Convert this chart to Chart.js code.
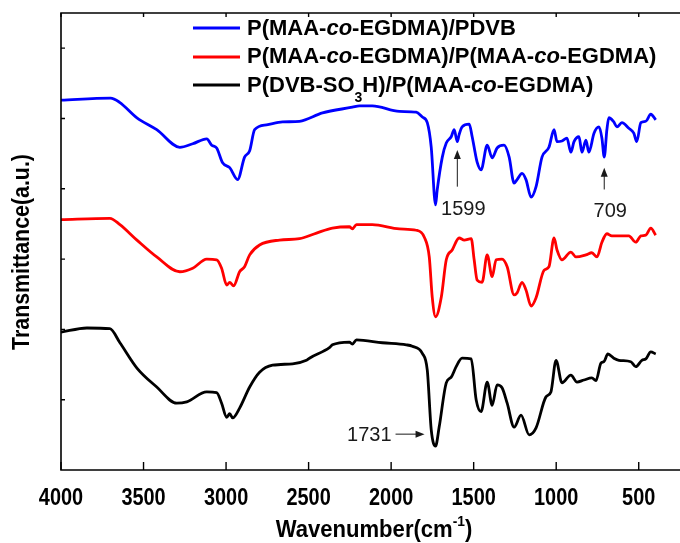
<!DOCTYPE html>
<html>
<head>
<meta charset="utf-8">
<script src="https://cdn.jsdelivr.net/npm/chart.js@4.4.1/dist/chart.umd.min.js"></script>
<style>
  html, body { margin: 0; padding: 0; background: #fff; }
  #wrap { width: 680px; height: 543px; }
</style>
</head>
<body>
<div id="wrap"><canvas id="c" width="680" height="543"></canvas></div>
<script>
// Axis ticks (wavenumber, cm-1) and the inward tick marks on the transmittance axis
const xTicks = [4000, 3500, 3000, 2500, 2000, 1500, 1000, 500];
const yTicks = [1, 2, 3, 4, 5, 6];

// Series labels (rich text: italic "co", subscript "3")
const labelBlue  = [{ t: 'P(MAA-' }, { t: 'co', i: true }, { t: '-EGDMA)/PDVB' }];
const labelRed   = [{ t: 'P(MAA-' }, { t: 'co', i: true }, { t: '-EGDMA)/P(MAA-' }, { t: 'co', i: true }, { t: '-EGDMA)' }];
const labelBlack = [{ t: 'P(DVB-SO' }, { t: '3', sub: true }, { t: 'H)/P(MAA-' }, { t: 'co', i: true }, { t: '-EGDMA)' }];

// P(MAA-co-EGDMA)/PDVB spectrum (offset transmittance)
const blueWn = [4000,3700,3645,3540,3420,3280,3202,3117,3087,3057,3021,2978,2930,2888,2857,2827,2755,2658,2555,2416,2235,2192,2114,1950,1848,1811,1781,1757,1731,1721,1690,1666,1636,1618,1599,1588,1570,1527,1509,1497,1479,1455,1418,1388,1358,1316,1285,1255,1237,1207,1183,1152,1122,1086,1044,1013,995,965,935,911,892,862,844,820,802,771,741,723,709,693,681,651,632,602,560,530,512,487,457,427,397];
const blueT  = [5.26,5.29,5.23,5.01,4.84,4.59,4.64,4.71,4.62,4.58,4.37,4.30,4.13,4.45,4.54,4.84,4.91,4.95,4.96,5.08,5.16,5.18,5.18,5.10,5.09,5.02,4.94,4.59,3.77,3.98,4.45,4.65,4.74,4.84,4.67,4.77,4.88,4.92,4.74,4.59,4.38,4.27,4.62,4.44,4.58,4.62,4.45,4.08,4.13,4.22,4.13,3.88,4.03,4.45,4.59,4.84,4.67,4.68,4.72,4.52,4.67,4.74,4.52,4.69,4.52,4.79,4.88,4.72,4.45,4.84,5.01,4.95,4.88,4.94,4.86,4.79,4.67,4.94,4.96,5.06,4.98];

// P(MAA-co-EGDMA)/P(MAA-co-EGDMA) spectrum
const redWn = [4000,3704,3643,3540,3420,3280,3202,3117,3057,3027,2996,2978,2954,2918,2888,2857,2797,2676,2555,2452,2356,2253,2235,2210,2114,1950,1848,1799,1769,1751,1731,1696,1666,1630,1588,1557,1515,1497,1479,1449,1418,1388,1364,1328,1297,1255,1237,1207,1183,1152,1122,1074,1044,1013,995,965,911,880,820,784,753,723,693,663,560,518,487,457,427,397];
const redT  = [3.56,3.58,3.49,3.27,3.03,2.82,2.87,3.00,2.99,2.87,2.63,2.67,2.62,2.82,2.89,3.06,3.20,3.27,3.29,3.37,3.44,3.46,3.43,3.49,3.49,3.43,3.41,3.31,3.03,2.46,2.18,2.46,2.99,3.13,3.30,3.27,3.29,2.99,2.70,2.67,3.06,2.75,2.99,3.00,2.89,2.49,2.52,2.67,2.56,2.33,2.45,2.84,2.89,3.30,3.13,2.99,3.10,3.03,3.06,3.09,3.03,3.24,3.36,3.33,3.33,3.24,3.33,3.34,3.44,3.34];

// P(DVB-SO3H)/P(MAA-co-EGDMA) spectrum
const blackWn = [4000,3843,3704,3643,3540,3420,3299,3238,3117,3057,3027,2996,2978,2960,2918,2857,2797,2718,2597,2513,2495,2374,2356,2253,2235,2210,2053,1908,1872,1811,1781,1757,1731,1709,1666,1636,1606,1570,1515,1485,1455,1418,1388,1358,1328,1297,1255,1213,1164,1122,1062,1032,1001,965,911,874,832,784,759,729,711,687,651,620,548,518,481,457,427,397];
const blackT  = [1.96,2.02,2.01,1.81,1.45,1.18,0.95,0.97,1.11,1.10,0.95,0.75,0.80,0.74,0.88,1.18,1.39,1.49,1.51,1.56,1.59,1.74,1.78,1.82,1.79,1.85,1.81,1.78,1.76,1.66,1.42,0.57,0.34,0.61,1.24,1.32,1.47,1.59,1.58,1.00,0.83,1.25,0.92,1.21,1.17,0.95,0.61,0.78,0.50,0.60,1.04,1.11,1.56,1.24,1.35,1.25,1.28,1.31,1.27,1.52,1.54,1.65,1.59,1.56,1.54,1.47,1.56,1.58,1.68,1.65];

// Marked bands: wavenumber, arrow tail / tip levels on the transmittance scale
const bandLabels = [
  { text: '1599', wn: 1599, from: 4.03, to: 4.55, dir: 'up' },
  { text: '709',  wn: 709,  from: 3.99, to: 4.30, dir: 'up' },
  { text: '1731', wn: 1731, level: 0.51, dir: 'right' }
];

const pts = (xs, ys) => xs.map((v, i) => ({ x: v, y: ys[i] }));

const SANS = '"Liberation Sans", Arial, sans-serif';

function drawRich(ctx, parts, x0, baseline, size, family) {
  let cx = x0;
  parts.forEach(p => {
    const s = (p.sub || p.sup) ? Math.round(size * 0.62) : size;
    ctx.font = (p.i ? 'italic ' : '') + 'bold ' + s + 'px ' + family;
    const dy = p.sub ? size * 0.45 : (p.sup ? -size * 0.45 : 0);
    ctx.fillText(p.t, cx, baseline + dy);
    cx += ctx.measureText(p.t).width;
  });
  return cx - x0;
}

function richWidth(ctx, parts, size, family) {
  let w = 0;
  parts.forEach(p => {
    const s = (p.sub || p.sup) ? Math.round(size * 0.62) : size;
    ctx.font = (p.i ? 'italic ' : '') + 'bold ' + s + 'px ' + family;
    w += ctx.measureText(p.t).width;
  });
  return w;
}

function arrowHead(ctx, x, y, dx, dy) {
  // filled head pointing along (dx, dy)
  const L = 9, W = 3.5;
  const bx = x - dx * L, by = y - dy * L;
  ctx.beginPath();
  ctx.moveTo(x, y);
  ctx.lineTo(bx - dy * W, by + dx * W);
  ctx.lineTo(bx + dy * W, by - dx * W);
  ctx.closePath();
  ctx.fill();
}

// condensed bold text (narrow face look)
function narrowText(ctx, text, x, y, size, squeeze, align) {
  ctx.save();
  ctx.font = 'bold ' + size + 'px ' + SANS;
  const w = ctx.measureText(text).width * squeeze;
  let left = x;
  if (align === 'center') left = x - w / 2;
  else if (align === 'right') left = x - w;
  ctx.translate(left, y);
  ctx.scale(squeeze, 1);
  ctx.textAlign = 'left';
  ctx.fillText(text, 0, 0);
  ctx.restore();
}

const decor = {
  id: 'decor',
  afterDraw(chart) {
    const { ctx, chartArea: a, scales: { x, y } } = chart;
    ctx.save();

    // frame (open on the right)
    ctx.strokeStyle = '#000';
    ctx.lineWidth = 1.6;
    ctx.beginPath();
    ctx.moveTo(chart.width, a.top);
    ctx.lineTo(a.left, a.top);
    ctx.lineTo(a.left, a.bottom);
    ctx.lineTo(chart.width, a.bottom);
    ctx.stroke();

    // inward tick marks
    ctx.lineWidth = 1.4;
    ctx.beginPath();
    x.ticks.forEach(t => {
      const px = x.getPixelForValue(t.value);
      ctx.moveTo(px, a.bottom); ctx.lineTo(px, a.bottom - 8);
      ctx.moveTo(px, a.top); ctx.lineTo(px, a.top + 4);
    });
    yTicks.forEach(v => {
      const py = y.getPixelForValue(v);
      ctx.moveTo(a.left, py); ctx.lineTo(a.left + 4, py);
    });
    ctx.stroke();

    // tick labels on the wavenumber axis
    ctx.fillStyle = '#000';
    ctx.textBaseline = 'alphabetic';
    x.ticks.forEach(t => {
      narrowText(ctx, String(t.value), x.getPixelForValue(t.value), 505, 24, 0.83, 'center');
    });

    // legend
    const rows = [labelBlue, labelRed, labelBlack];
    const lineY = [28, 57, 85];
    const baseY = [35, 63, 92];
    chart.data.datasets.forEach((ds, i) => {
      ctx.strokeStyle = ds.borderColor;
      ctx.lineWidth = 3;
      ctx.beginPath();
      ctx.moveTo(193, lineY[i]); ctx.lineTo(240, lineY[i]);
      ctx.stroke();
      ctx.fillStyle = '#000';
      ctx.textAlign = 'left';
      drawRich(ctx, rows[i], 247, baseY[i], 22, SANS);
    });

    // band annotations
    ctx.fillStyle = '#1a1a1a';
    ctx.strokeStyle = '#1a1a1a';
    ctx.lineWidth = 1;
    ctx.font = '20px ' + SANS;
    bandLabels.forEach(b => {
      const px = x.getPixelForValue(b.wn);
      if (b.dir === 'up') {
        const y0 = y.getPixelForValue(b.from), y1 = y.getPixelForValue(b.to);
        ctx.beginPath(); ctx.moveTo(px, y0); ctx.lineTo(px, y1 + 4); ctx.stroke();
        arrowHead(ctx, px, y1, 0, -1);
        ctx.textAlign = 'center';
        ctx.fillText(b.text, px + 6, y0 + 28);
      } else {
        const py = y.getPixelForValue(b.level);
        const tip = px - 11, tail = px - 40;
        ctx.beginPath(); ctx.moveTo(tail, py); ctx.lineTo(tip - 4, py); ctx.stroke();
        arrowHead(ctx, tip, py, 1, 0);
        ctx.textAlign = 'right';
        ctx.fillText(b.text, tail - 4, py + 7);
      }
    });

    // wavenumber axis title with superscript
    ctx.fillStyle = '#000';
    ctx.save();
    const xt = [{ t: 'Wavenumber(cm' }, { t: '-1', sup: true }, { t: ')' }];
    const sq = 0.92;
    const w = richWidth(ctx, xt, 24, SANS) * sq;
    ctx.translate(374 - w / 2, 537);
    ctx.scale(sq, 1);
    ctx.textAlign = 'left';
    drawRich(ctx, xt, 0, 0, 24, SANS);
    ctx.restore();

    // transmittance axis title
    ctx.translate(29, 252);
    ctx.rotate(-Math.PI / 2);
    narrowText(ctx, 'Transmittance(a.u.)', 0, 0, 24, 0.89, 'center');
    ctx.restore();
  }
};

new Chart(document.getElementById('c'), {
  type: 'line',
  data: {
    datasets: [
      { label: 'P(MAA-co-EGDMA)/PDVB', data: pts(blueWn, blueT), borderColor: '#0000ff' },
      { label: 'P(MAA-co-EGDMA)/P(MAA-co-EGDMA)', data: pts(redWn, redT), borderColor: '#ff0000' },
      { label: 'P(DVB-SO3H)/P(MAA-co-EGDMA)', data: pts(blackWn, blackT), borderColor: '#000000' }
    ]
  },
  options: {
    responsive: false,
    animation: false,
    devicePixelRatio: 1,
    layout: { padding: { left: 61, top: 13, right: 0, bottom: 0 } },
    elements: {
      line: { borderWidth: 2.8, cubicInterpolationMode: 'monotone', fill: false },
      point: { radius: 0 }
    },
    plugins: { legend: { display: false }, tooltip: { enabled: false } },
    scales: {
      x: {
        type: 'linear',
        reverse: true,
        min: 250,
        max: 4000,
        grid: { display: false, drawTicks: false },
        border: { display: false },
        afterBuildTicks: s => { s.ticks = xTicks.map(v => ({ value: v })); },
        afterFit: s => { s.height = 73; },
        ticks: { display: false }
      },
      y: {
        type: 'linear',
        min: 0,
        max: 6.5,
        display: false
      }
    }
  },
  plugins: [decor]
});
</script>
</body>
</html>
